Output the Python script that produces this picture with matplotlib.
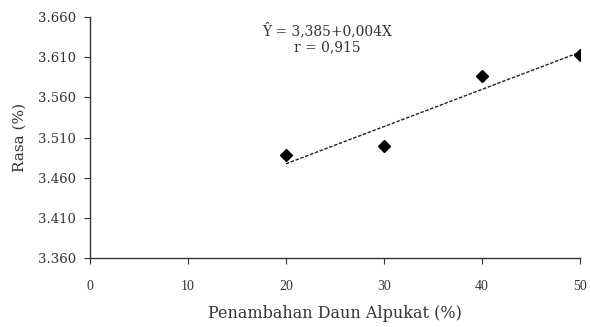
import numpy as np
import matplotlib.pyplot as plt

plt.rcParams['font.family'] = ['DejaVu Serif']

daun = [20, 30, 40, 50]
rasa = [3.488, 3.499, 3.587, 3.613]
yticks = [3.360, 3.410, 3.460, 3.510, 3.560, 3.610, 3.660]
ytick_labels = ["3.360", "3.410", "3.460", "3.510", "3.560", "3.610", "3.660"]
xticks = [0, 10, 20, 30, 40, 50]

fig = plt.figure(figsize=(5.9, 3.27), dpi=100)
ax = fig.add_axes([0.1525, 0.211, 0.8305, 0.737])

# linear trend
slope, intercept = np.polyfit(daun, rasa, 1)
xs = np.array([daun[0], daun[-1]])
ax.plot(xs, intercept + slope * xs, color="#222222", lw=1.0, ls=(0, (2.5, 1.2)))
ax.plot(daun, rasa, ls="none", marker="D", color="black", markersize=6)

ax.set_xlim(0, 50)
ax.set_ylim(3.360, 3.660)
ax.set_xticks(xticks)
ax.set_yticks(yticks)
ax.set_yticklabels(ytick_labels)
ax.tick_params(colors="#333333", direction="out", length=4.5, width=0.8)
ax.tick_params(axis="x", pad=11, labelsize=10, labelfontfamily="Liberation Serif")
ax.tick_params(axis="y", pad=5.5, labelsize=9.5)
for s in ["top", "right"]:
    ax.spines[s].set_visible(False)
for s in ["left", "bottom"]:
    ax.spines[s].set_color("#333333")
    ax.spines[s].set_linewidth(1.0)

ax.set_xlabel("Penambahan Daun Alpukat (%)", fontsize=11.5, color="#333333", labelpad=9)
ax.set_ylabel("Rasa (%)", fontsize=11, color="#333333", labelpad=8)

ax.text(0.485, 0.91, "Ŷ = 3,385+0,004X\nr = 0,915", transform=ax.transAxes,
        ha="center", va="center", fontsize=10, color="#333333", linespacing=1.2)

fig.savefig("out.png", dpi=100)
